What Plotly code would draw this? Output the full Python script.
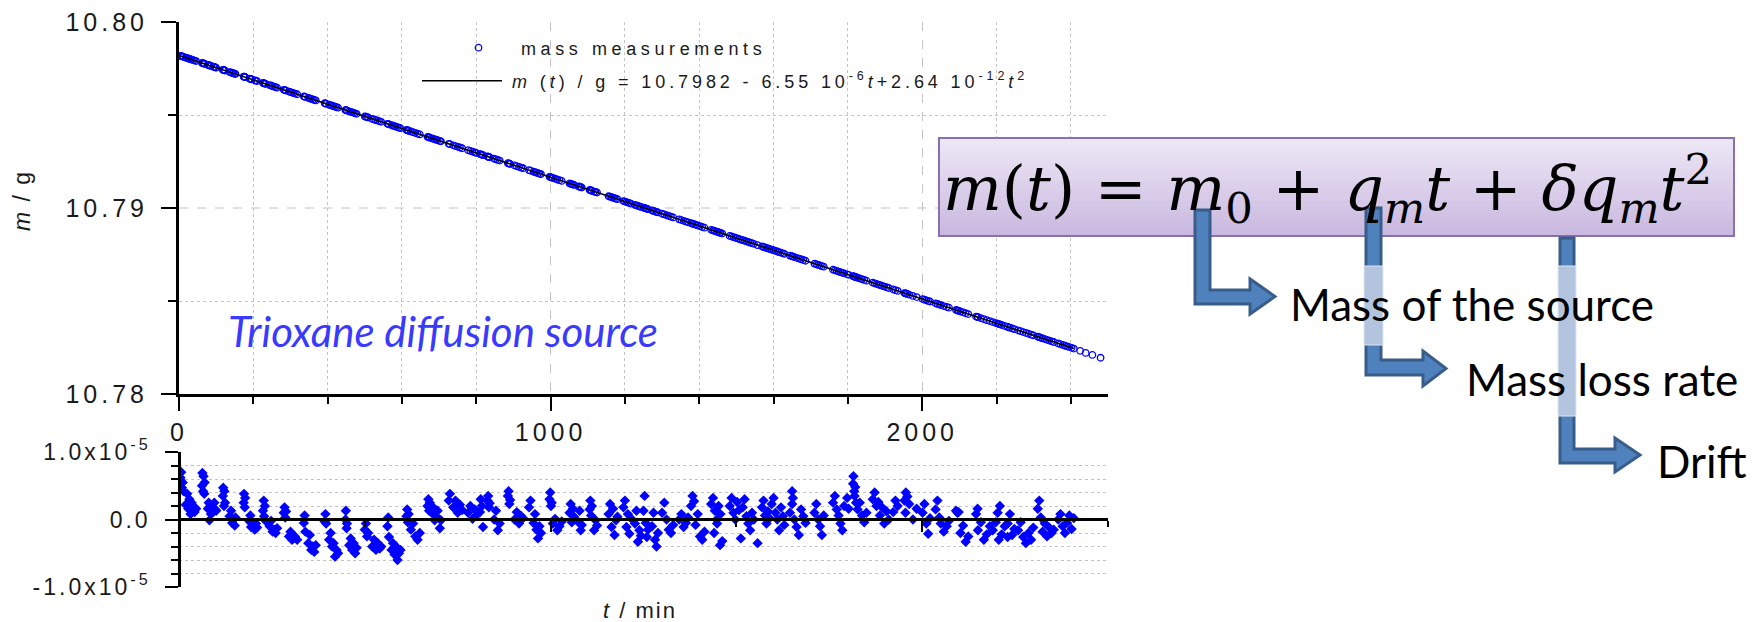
import numpy as np
import plotly.graph_objects as go

W, H = 1756, 622

# ---------------- data ----------------
# fit coefficients (from the legend): m(t)/g = M0 + QM*t + DQM*t^2
M0, QM, DQM = 10.7982, -6.55e-6, 2.64e-12

# residual measurements: time (min) and residual (1e-6 g), one line per measurement burst
RES_T = [
    4, 6, 8, 10, 12,
    18, 22, 25, 28, 31, 34, 38, 42, 46,
    62, 63, 65, 66, 68, 69,
    78, 80, 82, 84, 86,
    92, 95, 98, 100,
    118, 119, 121, 122, 124,
    136, 140, 143, 146, 150, 152,
    174, 175, 177, 178,
    190, 192, 194, 196,
    204, 207, 210,
    226, 228, 229, 231, 233,
    244, 248, 252, 256, 260, 264,
    282, 284, 286, 288,
    296, 300, 304, 308, 312, 318,
    336, 338, 340,
    348, 352, 356, 360, 364, 368,
    392, 394, 396,
    404, 408, 412, 416, 420, 424, 428,
    448, 449, 451, 452,
    458, 462, 466, 470, 474, 478,
    500, 503, 506, 509,
    520, 525, 530, 535, 540, 544,
    561, 563, 565,
    572, 576, 580, 584, 588, 592, 596,
    612, 614, 616, 618,
    624, 630, 636, 642, 648,
    669, 671, 673, 675,
    680, 684, 688, 692, 696,
    702, 705,
    726, 729,
    738, 744, 750, 756, 762,
    778, 784, 790, 796, 800,
    810, 812, 815, 818,
    830, 832, 834, 836,
    848, 853, 858, 863,
    885, 887, 889, 891,
    903, 909, 915, 921, 926,
    942, 946,
    954, 958, 962, 966, 970, 974,
    997, 999, 1001, 1003,
    1006, 1012, 1018, 1024, 1030,
    1051, 1054, 1057, 1060, 1063,
    1075, 1078, 1081, 1084,
    1105, 1107, 1109, 1111,
    1117, 1121, 1125,
    1156, 1160, 1164, 1168, 1172, 1176, 1180,
    1196, 1200, 1204, 1208, 1212, 1216,
    1227, 1231, 1235, 1239, 1243,
    1250, 1253, 1256, 1259, 1262,
    1273, 1277, 1281, 1285, 1289,
    1300, 1306, 1312, 1318, 1324, 1330,
    1346, 1352, 1358, 1364, 1370,
    1378, 1382, 1386,
    1390, 1396, 1402, 1408, 1414,
    1432, 1437, 1442, 1447, 1452, 1457,
    1440, 1448, 1456, 1462,
    1482, 1487, 1492, 1497, 1502, 1507,
    1512,
    1517, 1522, 1527, 1532, 1537, 1542, 1547,
    1557,
    1569, 1573, 1577, 1581, 1585, 1589,
    1595, 1600, 1605, 1610, 1615, 1620, 1625, 1629,
    1650, 1652,
    1644, 1650, 1656, 1662, 1668, 1674, 1680, 1686,
    1710, 1715, 1720, 1725, 1730, 1735,
    1760, 1765, 1770, 1775, 1780, 1785, 1790,
    1798, 1802,
    1814, 1815, 1817, 1818, 1820, 1822,
    1826, 1832, 1838, 1844, 1850,
    1867, 1872, 1877, 1882,
    1886, 1892, 1898, 1904, 1910,
    1922, 1928, 1934,
    1952, 1956, 1960,
    1955, 1965, 1975, 1985,
    2001, 2006, 2011, 2016, 2021,
    2036, 2041, 2046,
    2050, 2058, 2066, 2072,
    2091, 2095, 2098,
    2103, 2110, 2117, 2124,
    2145, 2149,
    2150, 2158, 2166, 2174, 2182,
    2203, 2209,
    2190, 2198, 2206, 2214, 2222, 2230,
    2230, 2236, 2242, 2248,
    2258, 2265, 2272, 2279, 2286, 2293, 2299,
    2311, 2315, 2319,
    2324, 2330, 2336, 2342, 2348, 2354,
    2366, 2372, 2378, 2384, 2390, 2396, 2402, 2408,
]
RES_R = [
    6.2, 7.0, 4.7, 5.5, 4.2,
    2.2, 3.8, 1.6, 3.0, 0.8, 2.5, 2.0, 1.1, 1.6,
    5.0, 6.9, 4.2, 6.4, 3.8, 5.5,
    1.6, 2.5, -0.1, 2.0, 0.8,
    1.1, 2.5, 1.5, 1.3,
    3.5, 4.7, 2.0, 4.2, 2.5,
    0.5, 1.3, -0.5, 0.0, -0.9, 0.3,
    2.5, 3.8, 1.8, 3.2,
    -0.3, 0.6, -1.1, -0.5,
    -1.5, -0.6, -1.2,
    1.3, 2.8, 0.5, 2.0, -0.2,
    -1.0, -0.2, -1.8, -1.5, -2.0, -1.3,
    1.0, 1.8, 0.3, 1.2,
    -2.5, -1.8, -3.0, -2.8, -2.5, -3.0,
    -0.5, 0.6, -1.8,
    -3.5, -2.3, -4.5, -4.0, -4.8, -3.8,
    -0.3, 0.8, -0.6,
    -3.0, -2.0, -4.0, -3.5, -5.5, -4.5, -5.0,
    0.0, 1.3, -1.3, -0.6,
    -3.8, -2.8, -4.5, -3.5, -5.0, -4.2,
    -1.5, -0.6, -2.5, -2.0,
    -4.0, -3.0, -4.5, -3.5, -4.3, -4.0,
    -1.0, 0.3, -2.6,
    -4.5, -3.5, -5.2, -4.0, -6.0, -5.0, -4.5,
    0.5, 1.5, -0.4, 0.8,
    -1.5, -0.6, -2.5, -3.0, -2.0,
    2.0, 3.0, 1.3, 2.5,
    1.0, 1.8, -0.1, 0.5, 1.3,
    -1.3, -0.1,
    2.8, 3.8,
    1.8, 2.8, 1.0, 2.2, 1.4,
    1.0, 2.0, 0.1, 1.5, 0.6,
    1.1, 3.0, 2.0, -1.1,
    2.8, 3.5, 1.8, 2.4,
    0.0, 1.3, -1.6, -0.6,
    3.5, 4.2, 2.3, 2.9,
    0.0, 1.1, -0.6, 0.5, 0.2,
    1.8, 2.8,
    -0.5, 0.8, -1.5, -2.8, -1.0, -2.0,
    3.0, 4.0, 2.0, 2.5,
    -0.6, 0.1, -1.6, -1.0, -0.3,
    1.0, 2.3, -0.4, 1.6, 0.4,
    -0.4, 1.3, -1.6, -0.8,
    1.5, 2.8, 0.6, 2.0,
    -1.6, -0.1, -0.9,
    0.8, 2.3, -1.1, 1.6, -2.3, -0.1, 0.4,
    1.8, 2.8, -1.1, 0.8, -2.1, 0.2,
    -0.6, 1.3, -3.3, -1.6, -2.4,
    1.3, 3.5, -0.5, -2.6, -1.5,
    -1.0, 1.0, -3.0, -4.0, -2.0,
    1.0, 2.5, 0.0, -1.5, -2.0, -0.8,
    0.0, 0.8, -1.1, -0.5, 0.3,
    2.0, 3.5, 2.7,
    -0.8, 0.8, -2.5, -3.0, -1.8,
    2.3, 3.2, 1.3, 0.0, 2.0, 0.8,
    -2.0, -0.6, -3.8, -3.2,
    2.0, 3.2, 1.0, 0.0, 2.6, 1.4,
    -2.8,
    1.8, 3.0, 0.5, -0.6, -1.6, 1.0, 0.0,
    -3.5,
    1.8, 2.8, 0.6, -0.6, 1.2, 0.2,
    2.3, 3.2, 1.0, 0.0, -1.6, 1.8, 0.5, -0.8,
    4.2, 3.2,
    1.0, 2.3, 0.0, -1.1, -2.3, 1.5, 0.5, -0.5,
    1.0, 2.3, 0.0, -1.0, -2.3, 0.6,
    2.5, 3.5, 1.5, 0.6, -0.6, -1.6, 2.0,
    3.2, 1.6,
    5.3, 6.4, 4.2, 3.5, 4.8, 2.5,
    1.5, 2.5, 0.6, -0.4, 1.0,
    3.0, 4.0, 2.0, 2.6,
    0.6, 1.8, -0.6, 1.2, 0.0,
    1.1, 2.8, 2.0,
    2.8, 4.0, 3.4,
    1.0, 2.3, 0.0, 1.6,
    1.0, 2.3, -0.6, -2.1, 0.2,
    1.5, 2.8, 0.3,
    -0.6, -1.8, -1.0, -0.2,
    1.3, 1.0, 1.1,
    -2.0, -0.9, -3.3, -2.5,
    0.8, 1.6,
    -1.6, -0.4, -3.0, -2.2, -1.0,
    1.0, 2.0,
    -1.6, -0.4, -3.0, -2.2, -1.0, -2.6,
    -0.6, 0.8, -2.3, -1.4,
    -1.6, -0.4, -2.6, -3.5, -2.0, -3.0, -1.2,
    1.6, 2.8, 0.3,
    -1.8, -0.6, -2.5, -1.2, -2.0, -1.5,
    0.0, 0.8, -1.0, -2.0, -0.5, 0.6, -1.4, 0.2,
]
# last weighings (no residual shown), mass in g
TAIL_T = [2425, 2440, 2458, 2480]
TAIL_M = [10.78232, 10.78221, 10.78210, 10.78195]

X_TICKS = [0, 1000, 2000]
X_TICKTEXT = ["0", "1000", "2000"]
Y_TICKS = [10.78, 10.79, 10.80]
Y_TICKTEXT = ["10.78", "10.79", "10.80"]
R_TICKS = [-1e-5, 0.0, 1e-5]
R_TICKTEXT = ["-1.0x10<sup>-5</sup>", "0.0", "1.0x10<sup>-5</sup>"]

assert len(RES_T) == len(RES_R), (len(RES_T), len(RES_R))

# ---------------- derived ----------------
t_res = np.array(RES_T, dtype=float)
r_res = np.array(RES_R, dtype=float) * 1e-6
fit = lambda t: M0 + QM * t + DQM * t ** 2
mass_t = np.concatenate([t_res, TAIL_T])
mass_m = np.concatenate([fit(t_res) + r_res, TAIL_M])
line_t = np.sort(t_res)
line_m = fit(line_t)

def ls(txt, sp):
    return f'<span style="letter-spacing:{sp}px">{txt}</span>'

def px(x):
    return x / W

def py(y):
    return 1 - y / H

ARIAL = "Liberation Sans, Arial, sans-serif"
BLUE = "#0000ff"
INK = "#1a1a1a"

fig = go.Figure()
fig.add_trace(go.Scatter(
    x=mass_t, y=mass_m, mode="markers", name=ls("mass measurements", 4.6),
    marker=dict(symbol="circle-open", size=6.5, color=BLUE, line=dict(width=1.3, color=BLUE)),
    xaxis="x", yaxis="y", legend="legend"))
fig.add_trace(go.Scatter(
    x=line_t, y=line_m, mode="lines",
    name="\u00a0" + ls("<i>m</i> (<i>t</i>) / g = 10.7982 - 6.55 10<sup>-6</sup><i>t</i>+2.64 10<sup>-12</sup><i>t</i><sup>2</sup>", 3.9),
    line=dict(color="black", width=1.6), xaxis="x", yaxis="y", legend="legend2"))
fig.add_trace(go.Scatter(
    x=t_res, y=r_res, mode="markers", showlegend=False,
    marker=dict(symbol="diamond", size=8, color=BLUE, line=dict(width=0)),
    xaxis="x2", yaxis="y2"))

xdom = [px(179), px(1108)]
tickfont = dict(family=ARIAL, size=25, color=INK)
GRID = "#c4c4c4"
legfont = dict(family=ARIAL, size=18, color=INK)

fig.update_layout(
    template="none",
    width=W, height=H, margin=dict(l=0, r=0, t=0, b=0, autoexpand=False),
    paper_bgcolor="white", plot_bgcolor="white",
    showlegend=True,
    legend=dict(x=px(436), y=py(48), xanchor="left", yanchor="middle",
                bgcolor="rgba(0,0,0,0)", borderwidth=0, itemwidth=75, font=legfont),
    legend2=dict(x=px(417), y=py(81), xanchor="left", yanchor="middle",
                 bgcolor="rgba(0,0,0,0)", borderwidth=0, itemwidth=80, font=legfont),
    xaxis=dict(domain=xdom, range=[0, 2500], anchor="y", automargin=False,
               showline=True, linecolor="black", linewidth=3,
               ticks="outside", ticklen=14, tickwidth=2, tickcolor="black",
               tickmode="array", tickvals=X_TICKS,
               ticktext=[ls(s, 4) for s in X_TICKTEXT], tickfont=tickfont,
               showgrid=True, gridcolor=GRID, griddash="dash", gridwidth=1,
               zeroline=False,
               minor=dict(tickmode="array", tickvals=[200, 400, 600, 800, 1200, 1400, 1600, 1800, 2200, 2400],
                          ticklen=7, tickwidth=2, tickcolor="black", ticks="outside",
                          showgrid=True, gridcolor=GRID, griddash="dot", gridwidth=1)),
    yaxis=dict(domain=[py(394), py(22)], range=[10.78, 10.80], anchor="x", automargin=False,
               showline=True, linecolor="black", linewidth=3,
               ticks="outside", ticklen=15, tickwidth=2, tickcolor="black",
               tickmode="array", tickvals=Y_TICKS,
               ticktext=[ls(s, 4) for s in Y_TICKTEXT], tickfont=tickfont,
               ticklabelstandoff=8,
               showgrid=False, zeroline=False,
               minor=dict(tickmode="array", tickvals=[10.785, 10.795],
                          ticklen=8, tickwidth=2, tickcolor="black", ticks="outside",
                          showgrid=True, gridcolor=GRID, griddash="dot", gridwidth=1)),
    xaxis2=dict(domain=xdom, range=[0, 2500], anchor="free", position=py(519), automargin=False,
                showline=True, linecolor="black", linewidth=2.5,
                ticks="outside", ticklen=11, tickwidth=2, tickcolor="black",
                tickmode="array", tickvals=X_TICKS, showticklabels=False,
                showgrid=False, zeroline=False,
                minor=dict(tickmode="array", tickvals=[500, 1500, 2500],
                           ticklen=6, tickwidth=2, tickcolor="black", ticks="outside")),
    yaxis2=dict(domain=[py(587), py(452)], range=[-1e-5, 1e-5], anchor="free", position=px(179),
                automargin=False,
                showline=True, linecolor="black", linewidth=2.5,
                ticks="outside", ticklen=13, tickwidth=2, tickcolor="black",
                tickmode="array", tickvals=R_TICKS,
                ticktext=[ls(s, 3) for s in R_TICKTEXT],
                tickfont=dict(family=ARIAL, size=23, color=INK),
                ticklabelstandoff=10,
                showgrid=False, zeroline=False,
                minor=dict(tickmode="array",
                           tickvals=[-8e-6, -6e-6, -4e-6, -2e-6, 2e-6, 4e-6, 6e-6, 8e-6],
                           ticklen=7, tickwidth=2, tickcolor="black", ticks="outside",
                           showgrid=True, gridcolor=GRID, griddash="dot", gridwidth=1)),
)

shapes = []
# dashed major gridline at 10.79
shapes.append(dict(type="line", xref="x", yref="y", x0=0, x1=2500, y0=10.79, y1=10.79,
                   line=dict(color=GRID, width=1, dash="dash"), layer="below"))

# equation box with vertical gradient (stacked strips)
bx0, bx1, by0, by1 = 939, 1734, 138, 236
n = 40
c_top = np.array([237, 232, 246])
c_bot = np.array([202, 184, 224])
for i in range(n):
    f = i / (n - 1)
    c = (c_top * (1 - f) + c_bot * f).astype(int)
    ya = by0 + (by1 - by0) * i / n
    yb = by0 + (by1 - by0) * (i + 1) / n + 0.6
    shapes.append(dict(type="rect", xref="paper", yref="paper",
                       x0=px(bx0), x1=px(bx1), y0=py(yb), y1=py(ya),
                       fillcolor=f"rgb({c[0]},{c[1]},{c[2]})", line=dict(width=0), layer="above"))
shapes.append(dict(type="rect", xref="paper", yref="paper",
                   x0=px(bx0), x1=px(bx1), y0=py(by1), y1=py(by0),
                   fillcolor="rgba(0,0,0,0)", line=dict(color="#8a6fb0", width=2), layer="above"))

def arrow(xl, xr, ytop, ybar0, ybar1, xhead, yh0, yh1, xtip):
    pts = [(xl, ytop), (xr, ytop), (xr, ybar0), (xhead, ybar0), (xhead, yh0),
           (xtip, (yh0 + yh1) / 2), (xhead, yh1), (xhead, ybar1), (xl, ybar1)]
    d = "M " + " L ".join(f"{px(x):.5f},{py(y):.5f}" for x, y in pts) + " Z"
    return dict(type="path", xref="paper", yref="paper", path=d,
                fillcolor="#4f81bd", line=dict(color="#385d8a", width=3), layer="above")

shapes.append(arrow(1195, 1210, 210, 290, 304, 1250, 279, 314, 1275))
shapes.append(arrow(1366, 1381, 208, 360, 375, 1423, 351, 386, 1446))
shapes.append(arrow(1560, 1574, 238, 449, 463, 1615, 438, 472, 1640))
# lighter checkered parts where arrows pass behind text
for (xa, xb, ya, yb) in [(1364, 1383, 266, 345), (1558, 1576, 266, 416)]:
    shapes.append(dict(type="rect", xref="paper", yref="paper",
                       x0=px(xa), x1=px(xb), y0=py(yb), y1=py(ya),
                       fillcolor="#b3c5de", line=dict(color="#dfe7f2", width=1), layer="above"))
fig.update_layout(shapes=shapes)

ann = []
def add_text(text, x, y, font, xanchor="left", yanchor="middle", angle=0):
    ann.append(dict(text=text, x=px(x), y=py(y), xref="paper", yref="paper",
                    xanchor=xanchor, yanchor=yanchor, showarrow=False, textangle=angle, font=font))

add_text("<i>Trioxane diffusion source</i>", 226, 331, dict(family="Lato", size=42, color="#3a3aff"))
add_text(ls("<i>m</i> / g", 2), 22, 201, dict(family=ARIAL, size=23, color=INK), xanchor="center", angle=-90)
add_text(ls("<i>t</i> / min", 2), 640, 610, dict(family=ARIAL, size=22, color=INK), xanchor="center")
add_text("<i>m</i>(<i>t</i>) = <i>m</i><sub>0</sub> + <i>q</i><sub><i>m</i></sub><i>t</i> + "
         "<i>δq</i><sub><i>m</i></sub><i>t</i><sup>2</sup>",
         1327, 189, dict(family="DejaVu Serif", size=62, color="black"), xanchor="center")
for txt, x, y in [("Mass of the source", 1288, 304), ("Mass loss rate", 1464, 379), ("Drift", 1655, 461)]:
    add_text(txt, x, y, dict(family="Lato", size=44, color="black"))
fig.update_layout(annotations=ann)

fig.write_html("out.html")
